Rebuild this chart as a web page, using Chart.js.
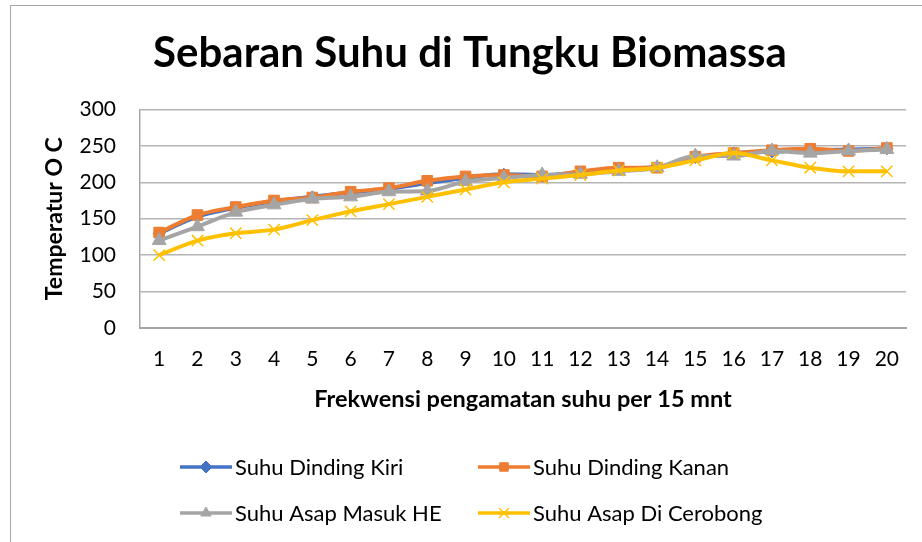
<!DOCTYPE html>
<html>
<head>
<meta charset="utf-8">
<script src="https://cdn.jsdelivr.net/npm/chart.js@4.4.1/dist/chart.umd.min.js"></script>
<style>
  html, body { margin: 0; padding: 0; background: #fff; }
  #wrap { width: 922px; height: 542px; position: relative; }
</style>
</head>
<body>
<div id="wrap"><canvas id="chart" width="922" height="542"></canvas></div>
<script>
'use strict';

//*****DATA******/

let categories = ['1', '2', '3', '4', '5', '6', '7', '8', '9', '10', '11', '12', '13', '14', '15', '16', '17', '18', '19', '20'];
let dindingKiri = [130, 153, 165, 174, 180, 186, 191, 199, 206, 211, 210, 214, 219, 221, 234, 240, 242, 244, 245, 246];
let dindingKanan = [131, 155, 166, 175, 179, 187, 192, 202, 208, 210, 208, 215, 220, 220, 235, 240, 244, 246, 243, 247];
let asapMasuk = [120, 139, 159, 169, 177, 180, 187, 188, 201, 206, 210, 211, 215, 220, 236, 236, 243, 240, 243, 245];
let asapCerobong = [100, 120, 130, 135, 148, 160, 170, 180, 190, 200, 205, 210, 216, 220, 230, 240, 230, 220, 215, 215];
let yTicks = [0, 50, 100, 150, 200, 250, 300];

let fontFam = 'Lato, "Noto Sans", sans-serif';

//*****PLUGINS******/

// outer frame like the office chart box
let framePlugin = {
  id: 'frame',
  beforeDraw(chart) {
    let ctx = chart.ctx;
    ctx.save();
    ctx.fillStyle = '#fff';
    ctx.fillRect(0, 0, chart.width, chart.height);
    ctx.strokeStyle = '#a6a6a6';
    ctx.lineWidth = 1;
    ctx.strokeRect(10.5, 5.5, 1000, 1000);
    ctx.restore();
  }
};

// legend with line + marker, two columns
let legendPlugin = {
  id: 'lineLegend',
  afterDraw(chart) {
    let ctx = chart.ctx;
    let spots = [[180, 467], [478, 467], [180, 513], [478, 513]];
    ctx.save();
    chart.data.datasets.forEach((ds, i) => {
      let x = spots[i][0];
      let y = spots[i][1];
      ctx.strokeStyle = ds.borderColor;
      ctx.fillStyle = ds.borderColor;
      ctx.lineWidth = 3.5;
      ctx.beginPath();
      ctx.moveTo(x, y);
      ctx.lineTo(x + 52, y);
      ctx.stroke();
      ctx.lineWidth = ds.pointBorderWidth;
      Chart.helpers.drawPoint(ctx, {
        pointStyle: ds.pointStyle,
        radius: ds.pointStyle === 'crossRot' ? 7 : 6,
        rotation: 0,
        borderWidth: ds.pointBorderWidth
      }, x + 26, y);
      ctx.fillStyle = '#000';
      ctx.font = '22px ' + fontFam;
      ctx.textBaseline = 'middle';
      ctx.textAlign = 'left';
      ctx.fillText(ds.label, x + 55, y + 1);
    });
    ctx.restore();
  }
};

//*****CHART******/

function makeSet(label, data, color, style, radius, bw, order) {
  return {
    label: label,
    data: data,
    order: order,
    borderColor: color,
    backgroundColor: color,
    borderWidth: 4,
    pointStyle: style,
    pointRadius: radius,
    pointHoverRadius: radius,
    pointBorderWidth: bw,
    pointBackgroundColor: color,
    pointBorderColor: color,
    cubicInterpolationMode: 'monotone'
  };
}

let canvasElem = document.getElementById('chart');

let chartObj = {
  type: 'line',
  data: {
    labels: categories,
    datasets: [
      makeSet('Suhu Dinding Kiri', dindingKiri, '#4472C4', 'rectRot', 6, 1, 4),
      makeSet('Suhu Dinding Kanan', dindingKanan, '#ED7D31', 'rect', 7.5, 1, 3),
      makeSet('Suhu Asap Masuk HE', asapMasuk, '#A5A5A5', 'triangle', 8, 1, 2),
      makeSet('Suhu Asap Di Cerobong', asapCerobong, '#FFC000', 'crossRot', 8, 1.5, 1)
    ]
  },
  options: {
    responsive: false,
    animation: false,
    layout: { padding: { top: 0, right: 16, bottom: 124, left: 34 } },
    plugins: {
      legend: { display: false },
      tooltip: { enabled: false },
      title: {
        display: true,
        text: 'Sebaran Suhu di Tungku Biomassa',
        color: '#000',
        font: { family: fontFam, size: 42, weight: 'bold' },
        padding: { top: 28, bottom: 31 }
      }
    },
    scales: {
      x: {
        offset: true,
        grid: { display: false, drawTicks: false },
        border: { color: '#a6a6a6', width: 2 },
        ticks: { color: '#000', font: { family: fontFam, size: 21 }, padding: 19, maxRotation: 0, autoSkip: false },
        title: {
          display: true,
          text: 'Frekwensi pengamatan suhu per 15 mnt',
          color: '#000',
          font: { family: fontFam, size: 23.5, weight: 'bold' },
          padding: { top: 0, bottom: 4 }
        },
        afterFit(scale) { scale.height = 90; }
      },
      y: {
        min: 0,
        max: 300,
        afterBuildTicks(scale) { scale.ticks = yTicks.map(v => ({ value: v })); },
        grid: { color: '#b4b4b4', lineWidth: 1.5, drawTicks: false },
        border: { color: '#a6a6a6', width: 1.5 },
        ticks: { color: '#000', font: { family: fontFam, size: 21 }, padding: 24 },
        title: {
          display: true,
          text: 'Temperatur O C',
          color: '#000',
          font: { family: fontFam, size: 23, weight: 'bold' },
          padding: { top: 7, bottom: 0 }
        },
        afterFit(scale) { scale.width = 106; }
      }
    }
  },
  plugins: [framePlugin, legendPlugin]
};

let myChart = new Chart(canvasElem, chartObj);
</script>
</body>
</html>
